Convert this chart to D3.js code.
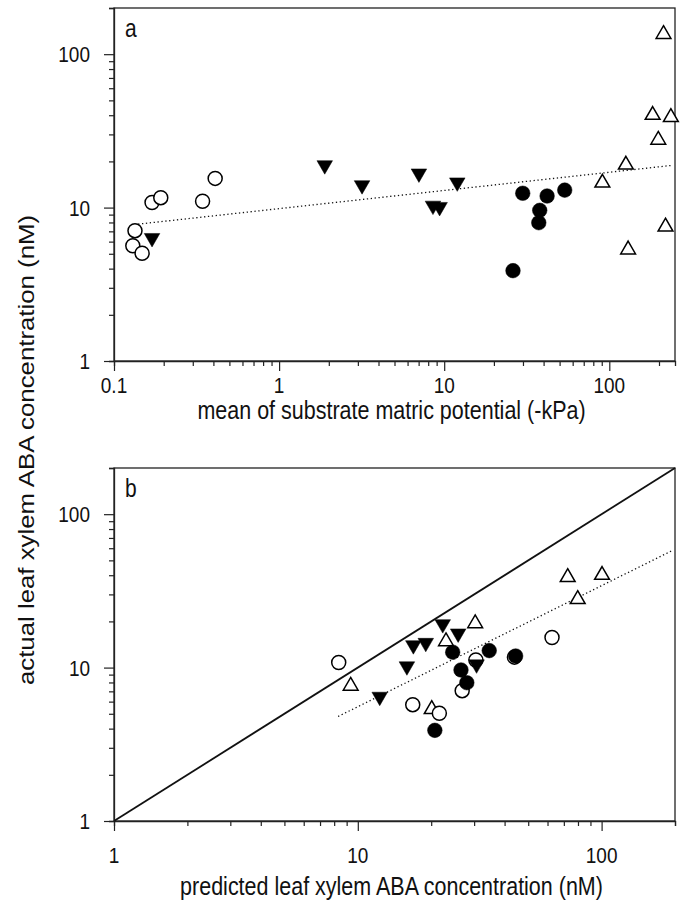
<!DOCTYPE html>
<meta charset="utf-8">
<script src="https://cdn.jsdelivr.net/npm/d3@7"></script>
<style>
  body { margin: 0; background: #fff; }
  text { font-family: Arial, "Liberation Sans", sans-serif; fill: #111; }
</style>
<div id="my_dataviz"></div>
<script>

// ---- panel a : mean substrate matric potential (-kPa) vs actual ABA (nM)
var openCircA_x  = [0.134, 0.130, 0.148, 0.170, 0.192, 0.344, 0.410];
var openCircA_y  = [7.07, 5.64, 5.04, 10.8, 11.6, 11.0, 15.5];
var fillTriA_x   = [0.170, 1.89, 3.18, 7.03, 12.0, 8.55, 9.38];
var fillTriA_y   = [6.34, 18.9, 14.0, 16.7, 14.6, 10.3, 10.1];
var fillCircA_x  = [29.9, 42.0, 53.7, 37.9, 37.4, 26.1];
var fillCircA_y  = [12.4, 11.9, 13.0, 9.6, 7.97, 3.88];
var openTriA_x   = [213, 183, 236, 198, 126, 90.8, 219, 130];
var openTriA_y   = [135, 40.1, 38.8, 27.6, 19.0, 14.5, 7.5, 5.32];
var fitA = [[0.14, 7.8], [235, 18.8]];

// ---- panel b : predicted vs actual ABA (nM)
var openCircB_x  = [8.35, 16.8, 21.6, 26.8, 30.5, 62.6, 43.9];
var openCircB_y  = [10.8, 5.73, 5.04, 7.07, 11.2, 15.7, 11.7];
var fillTriB_x   = [12.3, 15.9, 16.9, 19.0, 22.3, 25.8, 30.7];
var fillTriB_y   = [6.46, 10.2, 14.0, 14.5, 19.2, 16.7, 10.5];
var fillCircB_x  = [24.5, 26.5, 28.0, 34.6, 20.7, 44.4];
var fillCircB_y  = [12.6, 9.65, 7.97, 12.9, 3.90, 11.9];
var openTriB_x   = [9.35, 20.1, 23.0, 30.3, 72.6, 100.4, 79.8];
var openTriB_y   = [7.59, 5.35, 14.8, 19.4, 38.8, 40.1, 27.9];
var fitB = [[8.3, 4.8], [197, 58.4]];
var oneToOne = [[1, 1], [200, 200]];

var W = 684, H = 901;
var svg = d3.select("#my_dataviz")
  .append("svg")
    .attr("width", W)
    .attr("height", H);

var left = 114, right = 675;
// the lettering of the original is tall and narrow, so stretch it a bit
var stretch = 1.2;
var panelA = {top: 8, bottom: 361, tickBase: 32, titleBase: 58};
var panelB = {top: 468, bottom: 821, tickBase: 42, titleBase: 74};

var isMajor = function(d) {
  var l = Math.log10(d);
  return Math.abs(l - Math.round(l)) < 1e-6;
};
var fmt = d3.format("~g");

function tallText(parent, x, y, str, size, anchor) {
  return parent.append("text")
    .attr("transform", "translate(" + x + "," + y + ") scale(1," + stretch + ")")
    .attr("text-anchor", anchor)
    .attr("font-size", size)
    .text(str);
}

function drawPanel(p, xDomain, label, xTitle) {
  var w = right - left, h = p.bottom - p.top;
  var g = svg.append("g").attr("transform", "translate(" + left + "," + p.top + ")");
  var x = d3.scaleLog().domain(xDomain).range([0, w]);
  var y = d3.scaleLog().domain([1, 200]).range([h, 0]);

  // frame
  g.append("rect")
    .attr("width", w).attr("height", h)
    .attr("fill", "none").attr("stroke", "#222").attr("stroke-width", 1.3);

  // x axis
  var xa = g.append("g")
    .attr("transform", "translate(0," + h + ")")
    .call(d3.axisBottom(x).tickValues(x.ticks()).tickSizeOuter(0).tickSize(5).tickFormat(""));
  xa.select(".domain").attr("stroke", "#222").attr("stroke-width", 1.3);
  xa.selectAll(".tick line").attr("stroke", "#222").attr("stroke-width", 1.2)
    .attr("y2", function(d) { return isMajor(d) ? 10 : 5; });
  x.ticks().filter(isMajor).forEach(function(d) {
    tallText(g, x(d), h + p.tickBase, fmt(d), 19, "middle");
  });

  // y axis
  var ya = g.append("g")
    .call(d3.axisLeft(y).tickValues(y.ticks()).tickSizeOuter(0).tickSize(5).tickFormat(""));
  ya.select(".domain").attr("stroke", "#222").attr("stroke-width", 1.3);
  ya.selectAll(".tick line").attr("stroke", "#222").attr("stroke-width", 1.2)
    .attr("x2", function(d) { return isMajor(d) ? -10 : -5; });
  y.ticks().filter(isMajor).forEach(function(d) {
    tallText(g, -24, y(d) + 8, fmt(d), 19, "end");
  });

  // panel letter
  tallText(g, 11, 29, label, 21, "start");

  // x title
  tallText(svg, left + w / 2 - 3, p.bottom + p.titleBase, xTitle, 21.5, "middle");

  return {g: g, x: x, y: y};
}

function addLine(P, pts, dash, sw) {
  P.g.append("path")
    .datum(pts)
    .attr("fill", "none")
    .attr("stroke", "#111")
    .attr("stroke-width", sw)
    .attr("stroke-dasharray", dash)
    .attr("d", d3.line().x(function(d) { return P.x(d[0]); }).y(function(d) { return P.y(d[1]); }));
}

function addPoints(P, xs, ys, kind) {
  var data = xs.map(function(v, i) { return [v, ys[i]]; });
  var filled = kind === "fillCirc" || kind === "fillTri";
  var sel = P.g.selectAll("pts" + kind).data(data).enter();
  if (kind === "openCirc" || kind === "fillCirc") {
    sel.append("circle")
      .attr("cx", function(d) { return P.x(d[0]); })
      .attr("cy", function(d) { return P.y(d[1]); })
      .attr("r", filled ? 7.3 : 7)
      .attr("fill", filled ? "#000" : "#fff")
      .attr("stroke", "#000")
      .attr("stroke-width", filled ? 0.5 : 1.5);
  } else {
    sel.append("path")
      .attr("d", d3.symbol().type(d3.symbolTriangle).size(filled ? 105 : 95))
      .attr("transform", function(d) {
        return "translate(" + P.x(d[0]) + "," + P.y(d[1]) + ")" + (filled ? " rotate(180)" : "");
      })
      .attr("fill", filled ? "#000" : "#fff")
      .attr("stroke", "#000")
      .attr("stroke-width", filled ? 0.5 : 1.5);
  }
}

var A = drawPanel(panelA, [0.1, 250], "a", "mean of substrate matric potential (-kPa)");
addLine(A, fitA, "1.3,2.6", 1.3);
addPoints(A, openTriA_x, openTriA_y, "openTri");
addPoints(A, openCircA_x, openCircA_y, "openCirc");
addPoints(A, fillCircA_x, fillCircA_y, "fillCirc");
addPoints(A, fillTriA_x, fillTriA_y, "fillTri");

var B = drawPanel(panelB, [1, 200], "b", "predicted leaf xylem ABA concentration (nM)");
addLine(B, oneToOne, null, 1.8);
addLine(B, fitB, "1.3,2.6", 1.3);
addPoints(B, openTriB_x, openTriB_y, "openTri");
addPoints(B, openCircB_x, openCircB_y, "openCirc");
addPoints(B, fillCircB_x, fillCircB_y, "fillCirc");
addPoints(B, fillTriB_x, fillTriB_y, "fillTri");

// shared y title (stretched along its length, which runs vertically)
svg.append("text")
  .attr("transform", "translate(34,450) rotate(-90) scale(" + stretch + ",1)")
  .attr("text-anchor", "middle")
  .attr("font-size", 21.5)
  .text("actual leaf xylem ABA concentration (nM)");

</script>
